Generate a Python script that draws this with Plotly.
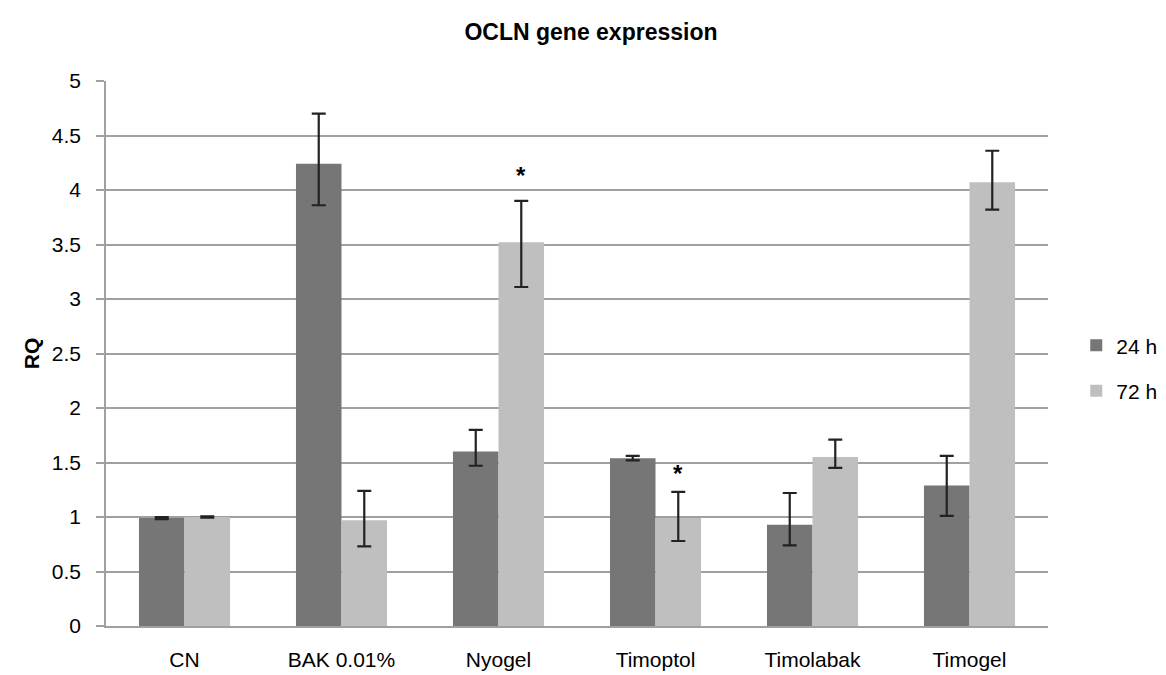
import plotly.graph_objects as go

categories = ["CN", "BAK 0.01%", "Nyogel", "Timoptol", "Timolabak", "Timogel"]
rq_24h = [0.99, 4.24, 1.60, 1.54, 0.93, 1.29]
err_24h_plus = [0.01, 0.46, 0.20, 0.02, 0.29, 0.27]
err_24h_minus = [0.01, 0.38, 0.13, 0.02, 0.19, 0.28]
rq_72h = [1.00, 0.97, 3.52, 0.99, 1.55, 4.07]
err_72h_plus = [0.005, 0.27, 0.38, 0.24, 0.16, 0.29]
err_72h_minus = [0.005, 0.24, 0.41, 0.21, 0.10, 0.25]
star_categories = ["Nyogel", "Timoptol"]
star_levels = [4.13, 1.40]
y_ticks = [0, 0.5, 1, 1.5, 2, 2.5, 3, 3.5, 4, 4.5, 5]
y_tick_labels = ["0", "0.5", "1", "1.5", "2", "2.5", "3", "3.5", "4", "4.5", "5"]

FONT = "Liberation Sans, Arial, sans-serif"
ERR_COLOR = "#222222"

fig = go.Figure()
fig.add_trace(go.Bar(
    name="24 h", x=categories, y=rq_24h, marker_color="#767676", marker_line_width=0,
    legendgroup="a",
    error_y=dict(type="data", symmetric=False, array=err_24h_plus, arrayminus=err_24h_minus,
                 color=ERR_COLOR, thickness=2.2, width=7),
))
fig.add_trace(go.Bar(
    name="72 h", x=categories, y=rq_72h, marker_color="#bfbfbf", marker_line_width=0,
    legendgroup="b",
    error_y=dict(type="data", symmetric=False, array=err_72h_plus, arrayminus=err_72h_minus,
                 color=ERR_COLOR, thickness=2.2, width=7),
))

for c, lvl in zip(star_categories, star_levels):
    fig.add_annotation(x=c, y=lvl, text="<b>*</b>", showarrow=False, xshift=22,
                       font=dict(family=FONT, size=24, color="#000000"))

fig.update_layout(
    width=1166, height=675,
    paper_bgcolor="white", plot_bgcolor="white",
    margin=dict(l=98, r=106, t=73, b=40),
    barmode="group", bargap=0.42, bargroupgap=0,
    font=dict(family=FONT, size=21, color="#000000"),
    title=dict(text="<b>OCLN gene expression</b>", x=0.5, xanchor="center",
               y=1 - 24 / 675, yanchor="middle",
               font=dict(family=FONT, size=23, color="#000000")),
    legend=dict(x=1.03, xanchor="left", y=0.473, yanchor="middle",
                font=dict(family=FONT, size=21), tracegroupgap=15,
                bgcolor="rgba(0,0,0,0)"),
    showlegend=True,
)
fig.update_xaxes(showgrid=False, showline=True, linecolor="#a0a0a0", linewidth=1.5,
                 ticks="", tickfont=dict(size=21), ticklabelstandoff=14)
fig.update_yaxes(range=[0, 5], tickvals=y_ticks, ticktext=y_tick_labels,
                 showgrid=True, gridcolor="#a0a0a0", gridwidth=1.5,
                 showline=True, linecolor="#a0a0a0", linewidth=1.5,
                 ticks="outside", ticklen=8, tickcolor="#a0a0a0", tickwidth=1.5,
                 tickfont=dict(size=21), ticklabelstandoff=11, zeroline=False,
                 title=dict(text="<b>RQ</b>", font=dict(size=21), standoff=6))

fig.write_html("out.html")
